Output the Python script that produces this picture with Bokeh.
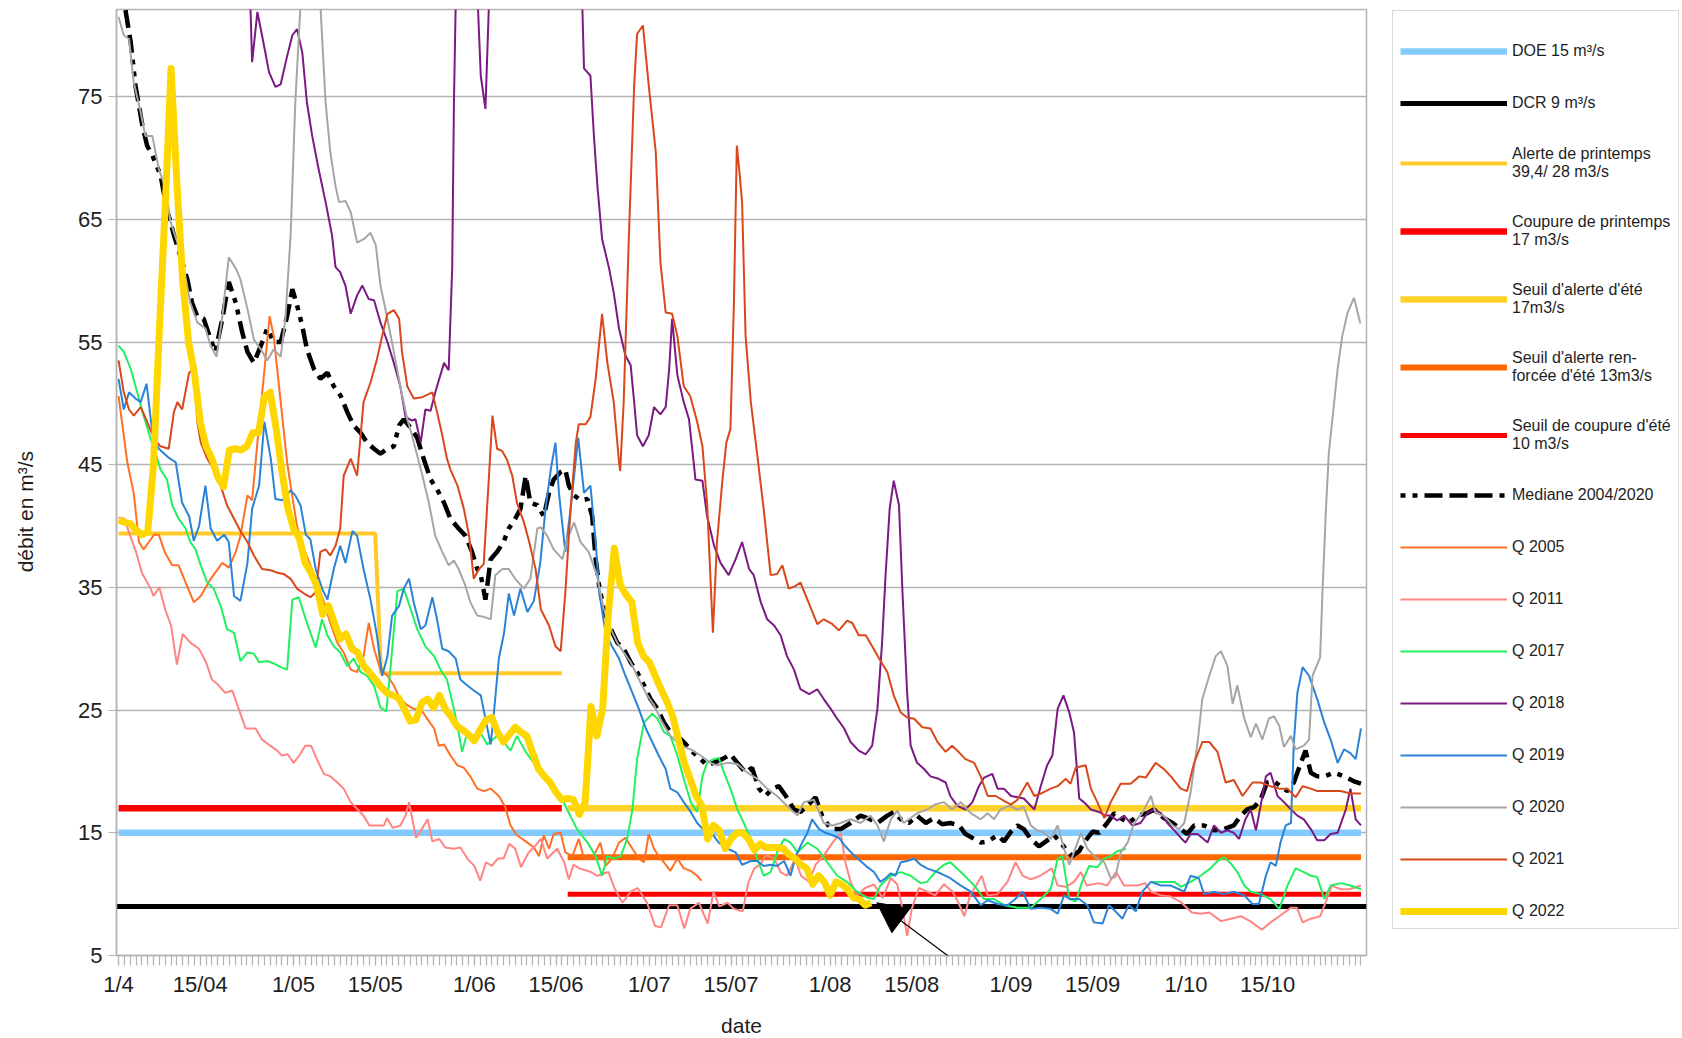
import math
from bokeh.plotting import figure
from bokeh.layouts import row
from bokeh.models import Range1d, FixedTicker, Legend, LegendItem, Arrow, NormalHead
from bokeh.embed import file_html
from bokeh.resources import INLINE

# ---------------- axis data (days counted from 1 April) ----------------
TICK_DAYS = [0, 14, 30, 44, 61, 75, 91, 105, 122, 136, 153, 167, 183, 197]
TICK_LABELS = ["1/4", "15/04", "1/05", "15/05", "1/06", "15/06", "1/07", "15/07",
               "1/08", "15/08", "1/09", "15/09", "1/10", "15/10"]
DAY_FIRST, DAY_LAST = 0, 213
Y_TICKS = [5, 15, 25, 35, 45, 55, 65, 75]

# ---------------- thresholds ----------------
DOE = 15.0
DCR = 9.0
SPRING_ALERT_1, SPRING_ALERT_2 = 39.4, 28.0
SPRING_ALERT_SWITCH = 44        # 15/05
SPRING_END = 76                 # 16/06
SPRING_CUT = 17.0
SUMMER_START = 77
SUMMER_ALERT = 17.0
SUMMER_REINF = 13.0
SUMMER_CUT = 10.0

# ---------------- flows (day, m3/s) ----------------
Q2022 = [40.5, 40.3, 40.2, 39.7, 39.3, 39.5, 45, 56, 66, 77.3, 68, 60, 55, 52.5, 48.5, 46.5,
         45.5, 44, 43.2, 46.2, 46.3, 46.2, 46.5, 47.6, 47.6, 50.5, 50.9, 48, 44.5, 41.5, 39.8,
         39, 37, 36.2, 35.1, 32.8, 33.5, 32.1, 30.8, 31.2, 30, 29.7, 28.6, 28.1, 27.5, 26.9,
         26.4, 26.2, 26, 25.1, 24.1, 24.2, 25.6, 25.9, 25.2, 26.2, 25.1, 24.5, 23.7, 23.4, 23,
         22.5, 23.4, 24.2, 24.4, 23.2, 22.4, 23, 23.6, 23.2, 22.9, 21.5, 20.2, 19.6, 19.1, 18.3,
         17.7, 17.8, 17.7, 16.5, 17.5, 25.3, 22.9, 25.1, 33, 38.2, 35.2, 34.4, 33.8, 30.5, 29.4,
         28.9, 27.8, 26.7, 25.7, 24.5, 22.6, 20.7, 19.4, 18, 17.2, 14.5, 15.6, 15.2, 13.7, 14.5,
         15, 15, 14.5, 13.6, 14.1, 13.8, 13.8, 13.8, 13.7, 13.2, 12.9, 12.4, 12.1, 10.8, 11.5,
         11, 9.9, 11, 10.8, 10.4, 9.7, 9.6, 9.1, 9.3]
Q2022_DAYS = list(range(len(Q2022)))

Q2005 = [(0, 50.6), (1.5, 45.2), (2.6, 42.7), (3.5, 38.7), (4.3, 38.1), (5.2, 38.7), (6.1, 39.3),
         (6.9, 39.3), (8, 37.8), (9.2, 36.8), (10.3, 36.8), (11.5, 35.4), (12.9, 33.8), (14.1, 34.3),
         (15.8, 35.7), (17.8, 37), (18.9, 36.6), (20.1, 37.9), (20.9, 39.2), (22.1, 42.5), (22.9, 42.1),
         (23.8, 46.8), (25.9, 57.1), (26.6, 55.5), (27.8, 50.1), (28.9, 45.2), (29.5, 43.3), (30.6, 40),
         (31.8, 38.1), (32.9, 36.8), (34.1, 35.4), (35.2, 33.8), (36.3, 32.1), (37.5, 30.5), (38.6, 29.7),
         (39.8, 28.3), (40.9, 28.1), (42, 29.4), (42.9, 32.1), (43.8, 30), (44.9, 28.3), (46.1, 27.8),
         (47.2, 27), (48.3, 25.9), (49.5, 25.4), (50.6, 25.1), (51.8, 25.1), (52.9, 24.3), (54.1, 23.5),
         (54.9, 22.1), (55.8, 22.2), (56.9, 21.3), (58.1, 20.5), (59.2, 20.3), (60.3, 19.6), (61.5, 18.6),
         (62.6, 18.4), (63.8, 18.6), (65.2, 18), (66.3, 17.1), (67.2, 15.6), (68.3, 14.8), (69.8, 14.3),
         (71.2, 13.8), (72.1, 13.1), (72.9, 14.8), (73.8, 13.7), (74.6, 14.9), (75.8, 15), (76.6, 13.4),
         (77.8, 13.1), (78.9, 14.5), (79.8, 12.9), (81.2, 12.9), (82.6, 14.2), (83.5, 12.3), (84.6, 12.9),
         (85.8, 14.2), (86.9, 14.6), (88.1, 13.7), (89.2, 12.9), (90.1, 12.6), (90.9, 14.9), (91.8, 13.7),
         (92.6, 13.1), (93.5, 12.6), (94.6, 11.9), (95.8, 12.9), (96.9, 12.1), (98.1, 11.9), (99.2, 11.5),
         (99.9, 11.1)]

Q2011 = [(0, 40.7), (1, 40.6), (2, 39.2), (3, 37.9), (4, 36.2), (5.5, 34.9), (6, 34.3), (7, 35), (8, 33.2),
         (9, 31.9), (10, 28.7), (11, 31.2), (12.3, 30.5), (13.8, 30), (15, 28.9), (16, 27.5), (17, 27.1),
         (18.3, 26.4), (19.5, 26.6), (20.6, 25.1), (21.8, 23.5), (23.5, 23.5), (24.6, 22.6), (26, 22.1),
         (27.2, 21.7), (28, 21.3), (29, 21.4), (30, 20.7), (31, 21.3), (32, 22.1), (33, 22.1), (34, 21),
         (35.2, 19.8), (36.3, 19.6), (37.5, 19.1), (38.6, 18.6), (39.8, 17.5), (41, 16.9), (42, 16.4),
         (43, 15.6), (44.3, 15.6), (45.5, 15.6), (46, 16.2), (47, 15.4), (48.3, 15.6), (49.2, 16.4),
         (49.8, 17.5), (51, 14.6), (52, 15.3), (53, 16.1), (53.8, 14.3), (55, 14.5), (56, 13.8), (57.5, 13.7),
         (58.6, 13.8), (59.8, 12.9), (61, 12.3), (62, 11.1), (63, 12.6), (64, 12.3), (65, 12.9), (66, 12.9),
         (67, 14.1), (68, 13.7), (69, 12.2), (70.3, 13.4), (71.2, 13.8), (72.4, 14.5), (73.5, 12.9),
         (75.2, 13.7), (76.4, 12.6), (77.2, 11.2), (78, 12.4), (79, 12.1), (81, 11.8), (82, 11.5), (84, 11.8),
         (85, 10.5), (86.4, 9.3), (87.8, 10.2), (89, 10.5), (90.6, 9.3), (92, 7.4), (93, 7.3), (94.4, 9.1),
         (95.8, 9.1), (97, 7.2), (98, 8.8), (99.5, 9.3), (101, 7.6), (102, 10.2), (103, 9), (104.4, 9.3),
         (105.5, 8.8), (107, 8.6), (108, 11), (109, 12.1), (110, 12.4), (111, 13.2), (112.4, 12.9),
         (113.5, 11.8), (114.6, 11.5), (116, 12.9), (117, 11.5), (118.4, 11), (119.5, 12.4), (121, 13.2),
         (122.4, 14.2), (123.8, 15), (124.6, 12.6), (125.5, 11), (126.6, 9.9), (128, 10.5), (129.5, 10.8),
         (131, 9.7), (132.4, 11.3), (133.5, 10.8), (134.4, 8.8), (135.2, 6.6), (136, 8.8), (137.2, 10.5),
         (138.6, 10.2), (140, 9.9), (141.5, 10.8), (143, 10.2), (144, 9.3), (145, 8.2), (146, 9.9),
         (148, 11.5), (149, 9.9), (150.7, 10), (152.4, 11), (153.8, 12.6), (155, 11.5), (156.4, 11.2),
         (158, 11.5), (160, 12.1), (161, 10.7), (162.4, 10.6), (163.8, 11), (165, 11.8), (166, 10.7),
         (168, 10.9), (169.5, 10.7), (171, 11.8), (172.4, 10.7), (174.7, 10.7), (176, 10.9), (177, 10.2),
         (178.7, 9.9), (180.4, 9.8), (182, 9.4), (184, 8.5), (185.5, 8.4), (187, 8.5), (189, 7.8),
         (190.7, 8), (192.4, 8.2), (194, 7.8), (196, 7.1), (197.5, 7.7), (199, 8.2), (201, 8.9), (202, 8.9),
         (203, 7.7), (204.4, 8), (206, 8.2), (207, 9.4), (208, 10.7), (209.5, 10.4), (211, 10.4), (213, 10.7)]

Q2017 = [(0, 54.7), (0.9, 54.2), (2.1, 52.8), (3.2, 50.9), (4.3, 49), (5.5, 47.1), (6.3, 46), (7.2, 44.6),
         (8.3, 43.8), (9.2, 41.7), (10.3, 40.6), (11.5, 39.8), (12.3, 38.7), (13.2, 38.1), (14.1, 36.8),
         (15.2, 35.4), (16.3, 34.9), (17.5, 33.5), (18.6, 31.6), (19.8, 31.3), (20.9, 29), (22.1, 29.7),
         (23.2, 29.6), (24.1, 28.9), (25.5, 29), (26.6, 28.8), (27.8, 28.5), (28.9, 28.3), (29.8, 34),
         (30.9, 34.2), (32.1, 32.4), (32.9, 31.3), (33.8, 30.1), (34.9, 32.4), (35.8, 31.1), (36.9, 30.2),
         (38, 29.7), (39.2, 28.6), (40.3, 29.2), (41.5, 28.1), (42.6, 27.8), (43.8, 27), (44.9, 25.2),
         (45.9, 24.9), (46.6, 28.3), (47.8, 34.7), (48.9, 34.9), (50.1, 33.2), (51.2, 31.6), (52.6, 30.2),
         (54.1, 29.4), (55.2, 28.3), (56.3, 27.5), (57.5, 25.1), (58.3, 23.2), (58.9, 21.6), (59.8, 23.2),
         (60.9, 22.9), (62, 23.2), (63.2, 22.2), (64.9, 22.9), (66, 22.4), (67.2, 21.7), (68.3, 22.9),
         (69.8, 21.6), (71.2, 20.7), (72.4, 20.1), (74.1, 19.1), (75.8, 18), (76.9, 16.9), (78.6, 15.3),
         (80.4, 14.2), (81.8, 13.1), (82.9, 11.5), (83.8, 13.1), (84.9, 12.9), (86.1, 13.1), (87.2, 14.5),
         (88.1, 16.9), (88.9, 21), (90.1, 24), (91.5, 24.7), (92.4, 24.3), (93.5, 23.2), (94.6, 22.9),
         (95.8, 21.3), (96.9, 19.4), (98.1, 17.5), (99.2, 16.7), (100.1, 19.6), (100.9, 20.7), (102, 21),
         (102.9, 21.1), (103.8, 19.9), (104.9, 18.6), (106.1, 16.9), (107.2, 15.8), (108.4, 14.5),
         (109.5, 12.9), (110.6, 11.5), (111.8, 11.8), (112.9, 13.4), (114.1, 14.5), (115.2, 14.2),
         (116.4, 13.4), (118.1, 14.2), (119.8, 13.7), (121.5, 12.6), (123.2, 11.5), (124.9, 11),
         (126.6, 10.2), (128.4, 9.7), (129.5, 9.6), (130.6, 10.7), (132.4, 11.5), (134.1, 11.8),
         (135.8, 11.5), (137.5, 10.9), (138.6, 11), (140, 11.8), (141.5, 12.4), (142.6, 12.6),
         (144.4, 11.8), (146.1, 11), (147.2, 10.4), (148.4, 9.6), (150.1, 9.6), (151.8, 9.1), (154.1, 8.9),
         (156.4, 8.9), (158.1, 9.6), (159.8, 10.4), (161, 12.9), (161.8, 13.1), (163, 9.6), (164.1, 9.4),
         (165.2, 11), (166.4, 12.3), (167.8, 12.2), (169, 12.9), (170.1, 13.1), (171.2, 13.5),
         (172.7, 13.7), (174.8, None), (177, 11), (179.2, 11), (181, 11), (182.1, 10.6), (183.8, 11),
         (185.5, 11.5), (187.2, 12.1), (188.4, 12.7), (189.5, 13), (190.7, 12.5), (191.8, 11.8),
         (193, 10.7), (194.1, 10.2), (195.8, 10), (197.5, 9.6), (199, 8.8), (200.4, 10.7), (201.8, 12.1),
         (203.2, 11.8), (204.4, 11.5), (205.5, 11.4), (206.7, 9.6), (207.8, 10.7), (209.5, 10.9),
         (211.2, 10.7), (213, 10.4)]

Q2018 = [(21, 100), (22.6, 82.5), (22.9, 77.8), (23.8, 81.9), (24.6, 80), (25.8, 77), (26.9, 75.8),
         (27.8, 76), (28.9, 78.3), (29.8, 80), (30.6, 80.5), (31.5, 78.6), (32.3, 74.5), (33.2, 71.8),
         (34.3, 69.1), (35.5, 66.4), (36.6, 63.7), (37.2, 61.1), (38, 60.7), (38.9, 59.6), (39.8, 57.3),
         (40.9, 58.8), (41.8, 59.6), (42.9, 58.5), (43.8, 58.4), (44.9, 56.6), (46.1, 55), (47.2, 53.3),
         (48.3, 51.4), (49.2, 48.9), (50.3, 48.6), (50.9, 48.7), (51.8, 46.8), (52.6, 49.5), (53.5, 49.4),
         (54.3, 50.9), (55.8, 53.3), (56.6, 52.7), (57.2, 61), (57.5, 74.5), (57.8, 82.5), (59.5, 110),
         (61.6, 82.5), (62.1, 76.7), (62.9, 74), (63.5, 82.5), (71, 150), (79.5, 82.5), (79.8, 77.3),
         (80.9, 76.7), (81.5, 71.8), (82.1, 67.7), (82.9, 63.4), (84.1, 61), (84.9, 59), (85.8, 56.1),
         (86.9, 53.9), (87.8, 53.1), (88.4, 50.1), (88.9, 47.4), (89.9, 46.5), (90.9, 47.4), (91.8, 49.7),
         (92.9, 49.1), (93.8, 49.7), (94.4, 52.8), (94.9, 56.9), (95.8, 52.3), (96.9, 50.1), (97.8, 48.7),
         (98.6, 45.2), (98.9, 43.8), (100.1, 43.7), (100.9, 40.8), (102.1, 38.4), (103.2, 37), (104.6, 36),
         (105.8, 37.3), (106.9, 38.7), (108.1, 36.5), (108.9, 36), (110.1, 33.8), (111.2, 32.4),
         (112.4, 31.9), (113.5, 31.1), (114.6, 29.4), (115.8, 28.3), (116.9, 26.7), (118.4, 26.3),
         (119.8, 26.7), (120.9, 25.9), (122.1, 25.1), (123.2, 24.3), (124.4, 23.5), (125.5, 22.4),
         (126.9, 21.7), (128.1, 21.4), (129.2, 22.1), (130.1, 25.1), (130.9, 30.5), (131.5, 36),
         (132.2, 41.4), (132.9, 43.7), (133.8, 41.7), (134.4, 34.6), (135.2, 26.4), (135.8, 22.1),
         (136.9, 20.7), (138.1, 20.2), (139.2, 19.6), (140.6, 19.4), (141.8, 19.1), (142.6, 18),
         (143.8, 17.2), (145.2, 16.9), (146.4, 17.5), (147.5, 18.8), (148.4, 19.5), (149.8, 19.8),
         (150.7, 18.6), (151.8, 18.6), (153, 18), (154.1, 17.9), (155.2, 17.8), (157, 16.9), (158.1, 18.8),
         (159.2, 20.5), (160.1, 21.3), (161, 25.1), (162, 26.2), (163, 24.8), (163.8, 23.2), (164.7, 17.8),
         (165.5, 17.5), (166.7, 16.9), (168.1, 16.7), (169.2, 16.4), (170.1, 16.4), (171.2, 16),
         (172.4, 16.4), (173.8, 15.6), (175.2, 15.8), (176.4, 16.6), (177.5, 16.9), (178.7, 16.6),
         (179.8, 15.8), (181, 15.2), (182.1, 14.6), (182.9, 14.2), (183.8, 14.9), (185, 14.9),
         (186.7, 14.2), (187.8, 15.6), (189, 15), (190.1, 15.2), (191.2, 15), (192.1, 14.5), (193.2, 16.1),
         (194.1, 16.9), (195, 15.2), (195.8, 17.2), (196.7, 19.6), (197.5, 19.9), (198.7, 18), (199.8, 17.5),
         (201, 16.9), (202.1, 16.4), (203.2, 16.1), (204.4, 15.3), (205.5, 14.4), (206.7, 14.4),
         (207.8, 14.9), (209, 15), (210.4, 16.9), (211.2, 18.6), (212.1, 16.1), (213, 15.6)]

Q2019 = [(0, 52), (0.9, 49.5), (1.8, 50.9), (2.9, 50.4), (3.8, 50.1), (4.8, 51.6), (5.8, 47.6), (6.9, 46.3),
         (8.5, 45.6), (9.8, 45.2), (10.9, 41.9), (12.1, 40.8), (12.9, 38.8), (13.8, 40), (14.9, 43.3),
         (15.8, 39.8), (16.9, 38.8), (18.1, 39.3), (18.9, 38.7), (19.8, 34.3), (20.9, 33.9), (22.1, 37),
         (22.9, 41.4), (24.1, 43.3), (25, 48.5), (26.1, 45.5), (26.9, 42.2), (28.1, 42.1), (29.5, 42.9),
         (30.3, 42.5), (31.2, 41.7), (32.1, 39.3), (32.9, 38.9), (33.8, 36.5), (34.9, 34.9), (35.8, 34),
         (36.9, 36.5), (38, 38.4), (38.9, 37), (40.1, 39.6), (40.9, 39.2), (42, 36.5), (43.2, 34),
         (44.3, 31.1), (45.2, 27.8), (46.1, 29.4), (46.9, 32.7), (48.1, 33.5), (48.9, 34.9), (49.8, 35.7),
         (50.6, 33.8), (51.8, 31.6), (52.6, 31.9), (53.8, 34.2), (54.6, 32.4), (55.5, 30), (56.6, 29.8),
         (57.8, 29.2), (58.6, 27.5), (59.8, 27), (60.9, 26.6), (62.1, 26.2), (62.9, 24.3), (63.8, 22.2),
         (64.3, 24.5), (65.2, 29.2), (66.1, 31.3), (66.9, 34.5), (67.8, 32.7), (68.9, 34.9), (70.1, 33),
         (71.2, 33.9), (72.3, 37), (73.2, 41.4), (74.1, 44.6), (74.9, 46.8), (75.5, 42.7), (76.6, 37.9),
         (77.5, 41.4), (78.8, 47.2), (79.8, 42.7), (80.9, 43.3), (81.8, 38.7), (82.4, 34.6), (83.5, 31.3),
         (84.6, 30.2), (85.8, 29.2), (86.9, 27.8), (88.1, 26.4), (89.2, 25.1), (90.4, 23.5), (91.5, 22.4),
         (92.6, 21.3), (93.8, 20.2), (94.6, 18.6), (95.8, 18.3), (96.9, 17.5), (98.1, 16.7), (99.2, 15.8),
         (100.4, 15.2), (101.8, 14.9), (102.9, 14.2), (104.4, 13.7), (105.8, 13.4), (106.9, 12.4),
         (108.4, 12.7), (109.5, 12.7), (110.6, 12.3), (111.8, 12.4), (112.9, 12.3), (114.1, 12.7),
         (115.2, 11.5), (116.1, 13.1), (117.2, 14.2), (118.1, 15), (118.9, 16.1), (120.1, 15.3),
         (121.2, 15), (122.4, 14.8), (123.5, 14.6), (124.6, 13.9), (125.8, 13.3), (127.2, 12.7),
         (128.4, 12.2), (129.5, 11.8), (130.6, 11), (131.5, 11.3), (132.4, 11.7), (133.2, 11.5),
         (134.1, 12.6), (135.2, 12.7), (136.4, 12.9), (137.5, 12.4), (138.6, 12.1), (139.8, 11.9),
         (140.9, 11.7), (142.6, 11.3), (144.4, 10.7), (146.1, 10.2), (147.8, 9.1), (149, 9.5), (150.7, 9.2),
         (152.4, 9.1), (153.5, 9.5), (155, 10.2), (156.4, 8.8), (158.1, 8.9), (159.8, 8.8), (161, 8.4),
         (162.1, 9.9), (163.2, 9.6), (164.7, 9.6), (166.1, 9.1), (167.2, 7.7), (168.7, 7.6), (169.8, 9.1),
         (170.9, 8.6), (172.1, 8), (173.2, 9.1), (174.4, 8.6), (175.5, 10.2), (177, 11), (178.7, 10.7),
         (180.4, 10.7), (181.8, 10.4), (182.7, 10.2), (183.8, 11.5), (185.2, 11.3), (186.1, 10),
         (187.8, 10.2), (189.5, 10), (191.2, 10.2), (193, 9.9), (194.4, 9.2), (195.5, 9.2), (196.7, 11.5),
         (197.5, 12.6), (198.4, 12.3), (199.2, 14.2), (200.1, 15.6), (201, 15.8), (201.5, 22.4),
         (202.1, 26.4), (203, 28.5), (204.1, 27.8), (205.5, 25.9), (206.7, 24), (207.8, 22.6), (209, 20.7),
         (210.1, 21.8), (211.2, 21.5), (212.1, 21), (213, 23.5)]

Q2020 = [(0, 81.5), (0.9, 80), (1.8, 79.7), (2.6, 76.2), (3.8, 73.7), (4.6, 71.8), (5.8, 71.8), (6.9, 69.1),
         (8.1, 67.5), (8.9, 64.8), (10.1, 63.1), (11.2, 61), (12.3, 58.2), (13.5, 56.6), (14.9, 56.1),
         (15.8, 54.7), (16.8, 53.8), (17.8, 57.1), (18.9, 61.9), (20.1, 61), (20.9, 60.1), (22.1, 57.7),
         (23.2, 55.2), (24.4, 54.4), (25.5, 53.5), (26.6, 54.4), (27.8, 53.8), (28.6, 56.9), (29.5, 63.7),
         (30.3, 74.5), (31.2, 82.5), (32.9, 95), (34.6, 82.5), (35.5, 74.5), (36.3, 70.5), (37.2, 67.7),
         (37.8, 66.4), (38.9, 66.5), (39.8, 65.6), (40.9, 63.1), (42.1, 63.4), (43.2, 63.9), (44.1, 62.9),
         (44.9, 59.6), (46.1, 56.9), (47.2, 54.2), (48.3, 51.4), (49.5, 48.7), (50.3, 47.4), (50.9, 46.3),
         (52.1, 44.1), (53.2, 41.9), (54.3, 39.2), (55.5, 37.9), (56.6, 36.8), (57.5, 37.2), (58.3, 36.5),
         (59.5, 35.1), (60.3, 33.8), (61.5, 32.7), (62.6, 32.6), (63.8, 32.4), (64.6, 36), (65.8, 36.5),
         (66.9, 36.5), (68, 35.7), (69.5, 34.9), (70.6, 35.7), (71.8, 39.8), (72.4, 39.9), (73.5, 39.2),
         (74.6, 38.1), (76.1, 37.3), (76.9, 38.9), (78.1, 40.3), (79.2, 38.7), (80.6, 37.9), (82, 36),
         (83.2, 33.2), (84.4, 31.6), (85.5, 30.5), (86.6, 29.7), (87.8, 28.9), (88.9, 27.8), (90.4, 26.4),
         (91.8, 25.4), (93.2, 24), (94.6, 22.9), (96.4, 22.1), (98.1, 21.8), (99.8, 21.3), (101.5, 20.7),
         (102.6, 20.5), (104.4, 20.7), (106.1, 20.6), (107.8, 19.9), (109.5, 19.4), (111.2, 18.6),
         (112.9, 18), (114.6, 17.2), (116.4, 16.4), (117.5, 17.5), (119.2, 17.7), (120.9, 15.8),
         (122.4, 15.6), (123.8, 15.8), (125.5, 16.1), (127.2, 15.8), (128.9, 16.4), (130.1, 15.6),
         (131.2, 14.3), (132.4, 16.1), (133.5, 16.8), (134.6, 15.8), (135.8, 16.2), (136.9, 16.6),
         (138.6, 16.9), (140, 17.3), (141.5, 17.5), (142.9, 16.9), (144.4, 17.5), (146.1, 16.6),
         (147.8, 16.1), (149, 16.6), (150.1, 16.1), (151.2, 16.9), (152.7, 17.2), (154.1, 16.9),
         (155.2, 17.1), (156.4, 15.6), (157.5, 15.2), (158.7, 15), (159.8, 14.5), (161, 15.6), (162.1, 13.7),
         (163, 12.4), (163.8, 13.4), (165, 15), (166.1, 13.7), (167.5, 13), (169, 12.6), (170.1, 11.3),
         (170.9, 11.4), (171.8, 13.4), (173, 14.2), (174.1, 15.8), (175.5, 16.6), (177, 18), (177.8, 16.6),
         (179.2, 16.4), (180.7, 15.6), (181.8, 15.3), (182.7, 15.8), (183.8, 18.3), (185, 22.4),
         (185.8, 25.9), (187, 27.8), (188.1, 29.4), (189, 29.8), (190.1, 28.6), (191, 25.5), (191.8, 27),
         (193, 24.3), (194.1, 22.8), (195, 23.9), (196.1, 22.6), (197.2, 24.3), (198.1, 24.5), (199, 23.7),
         (199.8, 22), (201, 22.9), (201.8, 21.8), (203.2, 22.1), (204.1, 22.6), (204.7, 27.8), (206, 29.3),
         (206.4, 34.6), (207, 41.4), (207.5, 46), (208.1, 48.7), (209, 52.8), (209.8, 55.5), (210.7, 57.4),
         (211.8, 58.6), (212.9, 56.5)]

Q2021 = [(0, 53.5), (0.9, 50.9), (1.8, 49.5), (2.6, 49), (3.8, 49.7), (4.9, 48.5), (6.1, 47.1), (7.2, 46.5),
         (8.6, 46.3), (9.5, 49.3), (10.1, 50.1), (10.9, 49.5), (12.1, 52.5), (12.9, 52.8), (13.5, 48.5),
         (14.1, 46.8), (15.2, 45.5), (16.3, 44.6), (17.5, 43.3), (18.6, 41.7), (19.8, 40.6), (20.9, 39.6),
         (22.1, 38.7), (23.2, 37.6), (24.6, 36.5), (26.1, 36.4), (27.2, 36.2), (28.3, 36.1), (29.5, 35.7),
         (30.6, 34.9), (31.8, 34.5), (32.9, 34.2), (33.8, 34.6), (34.6, 37.9), (35.5, 38.1), (36.3, 37.6),
         (37.2, 38.4), (38, 39.8), (38.6, 44.1), (39.8, 45.5), (40.9, 44.1), (42, 50.1), (43.2, 51.7),
         (44.3, 53.6), (45.2, 55.5), (46.1, 57.3), (47.2, 57.6), (48.1, 56.9), (48.6, 54.2), (49.5, 51.4),
         (50.6, 50.4), (52.1, 50.5), (53.8, 50.9), (54.6, 49.3), (55.5, 47.4), (56.3, 45.5), (56.9, 44.6),
         (58.1, 43.3), (59.2, 41.4), (60.1, 39.2), (60.9, 35.7), (61.8, 36.5), (62.6, 36.9), (63.5, 44),
         (64.1, 49), (64.9, 46.3), (65.8, 46.1), (66.6, 45.4), (67.5, 44.1), (68.3, 41.9), (69.5, 40.3),
         (70.3, 38.9), (71.5, 36.5), (72.4, 33.2), (73.8, 31.9), (74.9, 30.2), (75.8, 29.8), (76.6, 34.6),
         (77.5, 41.4), (78.4, 46.8), (78.9, 48.3), (80.1, 48.3), (80.9, 48.9), (81.8, 52), (82.9, 57.3),
         (83.8, 53.3), (84.9, 50.1), (85.8, 45.2), (86, 44.5), (86.6, 50.1), (87.5, 63.7), (88.4, 75.9),
         (88.9, 80.1), (89.9, 80.8), (90.9, 75.9), (92.1, 70.5), (92.9, 61.5), (93.8, 57.4), (94.9, 57.3),
         (95.8, 55.5), (96.9, 51.4), (98, 50.6), (99.2, 48.5), (100.1, 46.5), (100.9, 41.9), (101.9, 31.3),
         (102.6, 38.7), (103.5, 43.6), (104.2, 46.8), (104.9, 47.9), (105.5, 58.2), (106, 71), (106.4, 69.1),
         (106.9, 66.4), (107.5, 55.5), (108.4, 50.1), (109.5, 45.8), (110.6, 41.4), (111.8, 36),
         (112.9, 36.1), (113.8, 36.8), (114.9, 34.9), (116, 35.1), (116.9, 35.4), (118.1, 34), (119.8, 32),
         (120.9, 32.4), (122.4, 32), (123.5, 31.5), (124.9, 32.3), (125.8, 32.1), (126.9, 31.1),
         (128.1, 31.1), (129.2, 30.2), (130.4, 29.2), (131.8, 28.1), (132.9, 26.2), (134.1, 24.8),
         (135.2, 24.4), (136.4, 24.3), (137.8, 23.6), (139.2, 23.5), (140.4, 22.4), (141.8, 21.6),
         (142.9, 22.1), (144, 21.6), (145.2, 21), (146.7, 20.7), (147.8, 19.6), (149, 18), (150.4, 18),
         (151.8, 17.6), (153, 17.3), (154.1, 17.7), (155.8, 19.1), (157, 18), (158.1, 18.2), (159.8, 18.6),
         (161, 18.8), (162.4, 19.4), (163.2, 19), (164.1, 20.3), (165.8, 20.5), (166.7, 18.6), (167.8, 17.5),
         (169, 16.2), (170.1, 17.5), (171.8, 19), (173.5, 19), (175, 19.6), (176.1, 19.5), (177.8, 20.7),
         (179.2, 20.2), (180.4, 19.6), (182.1, 18.6), (183.2, 18.4), (184.4, 20.7), (185.8, 22.4),
         (187, 22.4), (188.4, 21.6), (189.8, 19.1), (191.2, 19.3), (192.7, 18), (194.4, 19.1), (195.8, 19.1),
         (197.5, 18.8), (199, 18.6), (200.4, 18.6), (201.8, 17.9), (203, 18.8), (204.4, 18.6), (205.5, 18.4),
         (207.8, 18.4), (209.5, 18.4), (211.2, 18.2), (213, 18.2)]

MEDIAN = [(0, 86), (1.2, 82), (2.1, 79.4), (2.9, 75.9), (4.1, 72.6), (4.9, 71), (5.8, 70.2), (7.2, 68.6),
          (8.3, 65.8), (9.5, 63.7), (10.6, 62), (11.8, 60.1), (12.6, 58.2), (13.5, 57.1), (14.6, 56.9),
          (15.8, 55.2), (16.6, 54.2), (17.8, 56.9), (18.9, 59.9), (20.1, 58.2), (21.2, 55.8), (22.1, 54.2),
          (23.2, 53.3), (24.4, 54.7), (25.5, 56.1), (26.6, 55), (27.8, 55), (28.9, 57.1), (29.8, 59.3),
          (30.6, 58), (31.5, 56.3), (32.3, 54.4), (33.5, 52.8), (34.6, 52), (35.8, 52.5), (36.9, 51.4),
          (38.1, 50.6), (39.2, 49.3), (40.3, 48.2), (41.5, 47.6), (42.6, 46.8), (43.8, 46.3), (44.9, 45.9),
          (46.1, 46.3), (47.2, 46.5), (48.1, 48.2), (48.9, 48.7), (50.1, 48), (51.2, 47.2), (52.3, 45.5),
          (53.5, 43.8), (54.6, 43), (55.8, 41.9), (56.9, 40.6), (58.3, 39.8), (59.5, 39.2), (60.6, 37.9),
          (61.5, 36.5), (62.1, 36), (62.9, 34), (63.8, 37.3), (64.9, 37.9), (66, 38.7), (66.9, 39.8),
          (68, 40.6), (68.9, 41.4), (69.8, 44.1), (70.6, 41.9), (71.8, 41.7), (72.9, 40.8), (73.8, 42.7),
          (74.6, 43.8), (75.8, 44.4), (76.6, 44.6), (77.2, 43.3), (78.1, 42.5), (79.2, 42.1), (80.4, 42.2),
          (81.2, 40.8), (81.8, 37.3), (82.4, 35.1), (83.2, 33.2), (84.4, 31.6), (85.5, 30.5), (86.6, 30),
          (87.8, 28.9), (88.9, 28.1), (90.1, 27), (91.2, 25.9), (92.4, 25.1), (93.5, 24), (94.6, 23.2),
          (95.8, 22.9), (96.9, 22.4), (98.4, 21.6), (99.8, 21), (100.9, 20.5), (102, 20.7), (103.5, 21),
          (104.9, 21.4), (106.1, 20.7), (107.5, 19.9), (108.6, 20.3), (109.8, 18.6), (110.9, 18),
          (112.1, 18.6), (113.2, 18.8), (114.4, 18), (115.8, 16.9), (116.9, 16.7), (118.1, 17.2),
          (119.5, 17.9), (120.6, 16.4), (122.1, 15.3), (123.8, 15.3), (125.5, 15.8), (127.2, 16.4),
          (128.4, 16.2), (130.1, 15.8), (131.8, 16.4), (132.9, 16.7), (134.1, 16.1), (135.5, 15.8),
          (136.9, 16.4), (138.4, 15.8), (139.8, 16.2), (141.2, 15.7), (142.6, 15.8), (144.1, 15.6),
          (145.2, 14.9), (146.7, 14.5), (147.8, 14.2), (149, 14.3), (150.7, 14.8), (151.8, 14.3), (153, 15.1),
          (154.1, 15.6), (155.2, 15.3), (156.4, 14.5), (157.8, 13.9), (159, 14.3), (160.4, 14.8),
          (161.5, 14.2), (162.7, 13.5), (163.5, 13.1), (164.7, 13.5), (165.5, 14.2), (167, 15.1), (168.1, 15),
          (169.5, 15.8), (170.7, 16.6), (171.8, 16.2), (173.2, 15.8), (174.7, 16.4), (176.4, 16.6),
          (177.5, 16.9), (179.2, 16.2), (180.7, 15.8), (182.1, 15.3), (183.2, 14.9), (184.4, 15.6),
          (186.1, 15.6), (187.8, 15.2), (189.5, 15.3), (191.2, 15.6), (192.4, 16.4), (193.5, 16.9),
          (194.7, 17.1), (195.8, 17.7), (196.9, 19.1), (198.1, 19.2), (199.2, 18.8), (200.4, 18.4),
          (201.5, 19.1), (202.7, 20.7), (203.5, 21.7), (204.4, 19.9), (205.5, 19.6), (206.7, 19.6),
          (208.4, 19.9), (210.1, 19.6), (211.8, 19.2), (213, 19)]


def split(pairs):
    xs = [d for d, _ in pairs]
    ys = [float("nan") if v is None else v for _, v in pairs]
    return xs, ys


FONT = "Liberation Sans"
GRID = "#b3b3b3"
TEXT = "#1e1e1e"

X0, X1 = -0.35, 213.95

# every series: (legend label, xs, ys, style)
SERIES = [
    ("DOE 15 m³/s", [DAY_FIRST, DAY_LAST], [DOE, DOE], dict(line_color="#83caff", line_width=6.5)),
    ("DCR 9 m³/s", [X0, X1], [DCR, DCR], dict(line_color="#000000", line_width=5)),
    ("Alerte de printemps\n39,4/ 28 m3/s",
     [DAY_FIRST, SPRING_ALERT_SWITCH, SPRING_ALERT_SWITCH + 1, SPRING_END],
     [SPRING_ALERT_1, SPRING_ALERT_1, SPRING_ALERT_2, SPRING_ALERT_2],
     dict(line_color="#ffc92a", line_width=4)),
    ("Coupure de printemps\n17 m3/s", [DAY_FIRST, SPRING_END], [SPRING_CUT, SPRING_CUT],
     dict(line_color="#ff0000", line_width=6.5)),
    ("Seuil d'alerte d'été\n17m3/s", [SUMMER_START, DAY_LAST], [SUMMER_ALERT, SUMMER_ALERT],
     dict(line_color="#ffd22a", line_width=6.5)),
    ("Seuil d'alerte ren-\nforcée d'été 13m3/s", [SUMMER_START, DAY_LAST], [SUMMER_REINF, SUMMER_REINF],
     dict(line_color="#ff6600", line_width=6)),
    ("Seuil de coupure d'été\n10 m3/s", [SUMMER_START, DAY_LAST], [SUMMER_CUT, SUMMER_CUT],
     dict(line_color="#ff0000", line_width=5)),
    ("Mediane 2004/2020", *split(MEDIAN),
     dict(line_color="#000000", line_width=4.5, line_dash="5 7 5 7 18 7 18 7 18 7")),
    ("Q 2005", *split(Q2005), dict(line_color="#ff7025", line_width=2)),
    ("Q 2011", *split(Q2011), dict(line_color="#ff8585", line_width=2)),
    ("Q 2017", *split(Q2017), dict(line_color="#22f060", line_width=2)),
    ("Q 2018", *split(Q2018), dict(line_color="#7a1a82", line_width=2)),
    ("Q 2019", *split(Q2019), dict(line_color="#2a83d6", line_width=2)),
    ("Q 2020", *split(Q2020), dict(line_color="#a6a6a6", line_width=2)),
    ("Q 2021", *split(Q2021), dict(line_color="#d9481b", line_width=2)),
    ("Q 2022", Q2022_DAYS, Q2022, dict(line_color="#ffd700", line_width=7, line_join="round")),
]

# ---------------- main chart ----------------
p = figure(frame_width=1250, frame_height=946,
           min_border_left=116, min_border_right=25, min_border_top=9, min_border_bottom=81,
           x_range=Range1d(X0, X1), y_range=Range1d(5, 82.1),
           output_backend="svg", toolbar_location=None,
           background_fill_color="white", border_fill_color="white")
p.outline_line_color = GRID
p.outline_line_width = 1.5

p.xaxis.ticker = FixedTicker(ticks=TICK_DAYS, minor_ticks=list(range(DAY_FIRST, DAY_LAST + 1)))
p.xaxis.major_label_overrides = {d: lab for d, lab in zip(TICK_DAYS, TICK_LABELS)}
p.yaxis.ticker = FixedTicker(ticks=Y_TICKS)
for ax in (p.xaxis[0], p.yaxis[0]):
    ax.axis_line_color = GRID
    ax.axis_line_width = 1.5
    ax.major_tick_line_color = GRID
    ax.minor_tick_line_color = GRID
    ax.major_tick_line_width = 1.2
    ax.minor_tick_line_width = 1.2
    ax.major_tick_in = 0
    ax.minor_tick_in = 0
    ax.major_label_text_font = FONT
    ax.major_label_text_font_size = "22px"
    ax.major_label_text_color = TEXT
    ax.axis_label_text_font = FONT
    ax.axis_label_text_font_style = "normal"
    ax.axis_label_text_font_size = "21px"
    ax.axis_label_text_color = TEXT
p.xaxis.major_tick_out = 10
p.xaxis.minor_tick_out = 10
p.xaxis.major_label_standoff = 6
p.xaxis.axis_label = "date"
p.xaxis.axis_label_standoff = 14
p.yaxis.major_tick_out = 8
p.yaxis.minor_tick_out = 0
p.yaxis.major_label_standoff = 6
# trailing no-break spaces move the visible text slightly below the frame centre, as in the original
p.yaxis.axis_label = "débit en m³/s" + "\u00a0" * 10
p.yaxis.axis_label_standoff = 38

p.xgrid.grid_line_color = None
p.ygrid.ticker = FixedTicker(ticks=Y_TICKS)
p.ygrid.grid_line_color = GRID
p.ygrid.grid_line_width = 1.5

for label, xs, ys, style in SERIES:
    p.line(xs, ys, **style)

end_x, end_y = Q2022_DAYS[-1] + 1, Q2022[-1]
p.add_layout(Arrow(end=NormalHead(size=30, fill_color="black", line_color="black"),
                   x_start=end_x + 31, y_start=end_y - 11, x_end=end_x, y_end=end_y,
                   line_color="black", line_width=1.2))

# ---------------- legend panel (same series, view range kept away from the data) ----------------
lg = figure(frame_width=289, frame_height=946,
            min_border_left=0, min_border_right=0, min_border_top=9, min_border_bottom=81,
            x_range=Range1d(-2000, -1999), y_range=Range1d(-2000, -1999),
            x_axis_type=None, y_axis_type=None,
            output_backend="svg", toolbar_location=None,
            background_fill_color="white", border_fill_color="white")
lg.outline_line_color = None
items = []
for label, xs, ys, style in SERIES:
    r = lg.line(xs, ys, **style)
    items.append(LegendItem(label=label, renderers=[r]))

legend = Legend(items=items, location="top_left", orientation="vertical",
                glyph_width=107, glyph_height=20, label_height=20, label_standoff=5,
                spacing=32, padding=7, margin=1,
                label_text_font=FONT, label_text_font_size="16px", label_text_color=TEXT,
                label_text_line_height=1.45,
                border_line_color=GRID, border_line_width=1.5,
                background_fill_color="white", background_fill_alpha=1.0,
                title=" ", title_text_font_size="12px", title_standoff=9)
lg.add_layout(legend, "center")

layout = row(p, lg, spacing=0)
open("out.html", "w").write(file_html(layout, INLINE))
